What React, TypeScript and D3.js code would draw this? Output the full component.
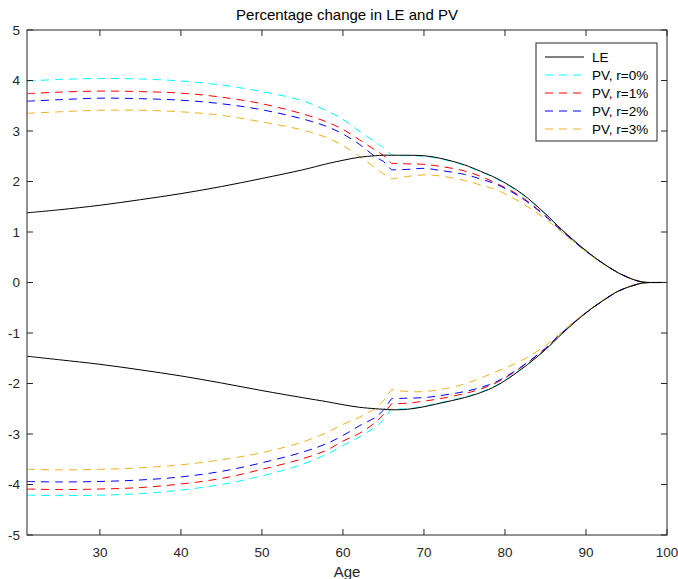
import React from "react";
import * as d3 from "d3";

const ages = [21, 25, 30, 35, 40, 45, 50, 55, 58, 60, 62, 64, 65, 66, 68, 70, 72, 75, 77, 79, 82, 85, 87, 90, 92, 94, 96, 97, 98, 100];

const leUpper = [1.38, 1.44, 1.53, 1.64, 1.76, 1.90, 2.06, 2.23, 2.35, 2.42, 2.48, 2.51, 2.52, 2.52, 2.52, 2.51, 2.46, 2.33, 2.20, 2.06, 1.77, 1.36, 1.05, 0.63, 0.39, 0.19, 0.05, 0.01, 0, 0];
const leLower = [-1.46, -1.53, -1.62, -1.73, -1.85, -1.99, -2.14, -2.28, -2.36, -2.42, -2.47, -2.50, -2.51, -2.52, -2.51, -2.46, -2.39, -2.28, -2.18, -2.04, -1.72, -1.33, -1.02, -0.60, -0.37, -0.17, -0.05, -0.01, 0, 0];

const pv0Upper = [3.99, 4.02, 4.04, 4.03, 3.99, 3.91, 3.78, 3.60, 3.40, 3.23, 3.00, 2.78, 2.67, 2.52, 2.51, 2.50, 2.45, 2.32, 2.19, 2.05, 1.76, 1.35, 1.04, 0.63, 0.39, 0.19, 0.05, 0.01, 0, 0];
const pv1Upper = [3.74, 3.77, 3.79, 3.78, 3.75, 3.67, 3.54, 3.34, 3.18, 3.03, 2.83, 2.62, 2.52, 2.36, 2.35, 2.34, 2.30, 2.21, 2.10, 1.96, 1.70, 1.32, 1.03, 0.62, 0.39, 0.19, 0.05, 0.01, 0, 0];
const pv2Upper = [3.59, 3.62, 3.65, 3.64, 3.61, 3.54, 3.42, 3.24, 3.09, 2.94, 2.74, 2.49, 2.40, 2.23, 2.24, 2.26, 2.22, 2.14, 2.05, 1.94, 1.68, 1.31, 1.02, 0.62, 0.39, 0.19, 0.05, 0.01, 0, 0];
const pv3Upper = [3.35, 3.38, 3.41, 3.41, 3.38, 3.31, 3.18, 3.02, 2.87, 2.71, 2.50, 2.27, 2.15, 2.05, 2.10, 2.13, 2.11, 2.02, 1.93, 1.83, 1.58, 1.26, 1.00, 0.61, 0.38, 0.19, 0.05, 0.01, 0, 0];

const pv0Lower = [-4.21, -4.22, -4.21, -4.18, -4.11, -4.00, -3.83, -3.60, -3.40, -3.23, -3.06, -2.86, -2.72, -2.50, -2.50, -2.45, -2.38, -2.27, -2.17, -2.03, -1.71, -1.32, -1.01, -0.60, -0.37, -0.17, -0.05, -0.01, 0, 0];
const pv1Lower = [-4.09, -4.10, -4.09, -4.06, -3.99, -3.88, -3.70, -3.49, -3.32, -3.14, -2.99, -2.77, -2.61, -2.40, -2.39, -2.35, -2.30, -2.20, -2.11, -1.98, -1.68, -1.31, -1.00, -0.60, -0.37, -0.17, -0.05, -0.01, 0, 0];
const pv2Lower = [-3.94, -3.95, -3.94, -3.91, -3.85, -3.74, -3.57, -3.36, -3.19, -3.03, -2.84, -2.67, -2.53, -2.30, -2.29, -2.28, -2.24, -2.16, -2.08, -1.96, -1.67, -1.30, -1.00, -0.60, -0.37, -0.17, -0.05, -0.01, 0, 0];
const pv3Lower = [-3.70, -3.71, -3.70, -3.67, -3.61, -3.51, -3.37, -3.16, -2.97, -2.81, -2.67, -2.49, -2.34, -2.12, -2.16, -2.16, -2.12, -2.01, -1.89, -1.76, -1.55, -1.25, -0.98, -0.59, -0.36, -0.17, -0.05, -0.01, 0, 0];

const xTicks = [30, 40, 50, 60, 70, 80, 90, 100];
const yTicks = [-5, -4, -3, -2, -1, 0, 1, 2, 3, 4, 5];

const legendLabels = ["LE", "PV, r=0%", "PV, r=1%", "PV, r=2%", "PV, r=3%"];
const seriesColors = ["#000000", "#00FFFF", "#FF0000", "#0000FF", "#EDB120"];

const W = 678;
const H = 579;
const left = 27;
const right = 667;
const top = 30;
const bottom = 535;
const font = "'Liberation Sans', Arial, Helvetica, sans-serif";
const axisColor = "#262626";
const breakAge = 65;

export default function App() {
  const x = d3.scaleLinear().domain([21, 100]).range([left, right]);
  const y = d3.scaleLinear().domain([-5, 5]).range([bottom, top]);
  const smooth = d3
    .line<[number, number]>()
    .x((d) => x(d[0]))
    .y((d) => y(d[1]))
    .curve(d3.curveCatmullRom.alpha(0.5));

  const pts = (vals: number[]) => ages.map((a, i) => [a, vals[i]] as [number, number]);

  // smooth path, but with a sharp break between breakAge and the next age
  const brokenPath = (vals: number[]) => {
    const p = pts(vals);
    const a = p.filter((d) => d[0] <= breakAge);
    const b = p.filter((d) => d[0] > breakAge);
    const pa = smooth(a) || "";
    const pb = (smooth(b) || "").replace(/^M/, "L");
    return pa + pb;
  };

  const pvSeries = [
    { up: pv0Upper, lo: pv0Lower, color: seriesColors[1] },
    { up: pv1Upper, lo: pv1Lower, color: seriesColors[2] },
    { up: pv2Upper, lo: pv2Lower, color: seriesColors[3] },
    { up: pv3Upper, lo: pv3Lower, color: seriesColors[4] },
  ];
  const tickLen = 6;
  const dash = "8,6";

  const lx = 536, ly = 43, lw = 121, lh = 98;

  return (
    <svg
      width={W}
      height={H}
      style={{ position: "absolute", left: 0, top: 0, background: "#fff" }}
      fontFamily={font}
    >
      <rect x={0} y={0} width={W} height={H} fill="#fff" />
      <defs>
        <clipPath id="plotclip">
          <rect x={left} y={top} width={right - left} height={bottom - top} />
        </clipPath>
      </defs>
      <g clipPath="url(#plotclip)">
        {pvSeries.map((s, i) => (
          <g key={i}>
            <path d={brokenPath(s.up)} fill="none" stroke={s.color} strokeWidth={1} strokeDasharray={dash} />
            <path d={brokenPath(s.lo)} fill="none" stroke={s.color} strokeWidth={1} strokeDasharray={dash} />
          </g>
        ))}
        <path d={smooth(pts(leUpper)) || ""} fill="none" stroke="#000" strokeWidth={1} />
        <path d={smooth(pts(leLower)) || ""} fill="none" stroke="#000" strokeWidth={1} />
      </g>

      {/* axes box */}
      <rect x={left} y={top} width={right - left} height={bottom - top} fill="none" stroke={axisColor} strokeWidth={1} />

      {/* x ticks */}
      {xTicks.map((t) => (
        <g key={"x" + t}>
          <line x1={x(t)} x2={x(t)} y1={bottom} y2={bottom - tickLen} stroke={axisColor} />
          <line x1={x(t)} x2={x(t)} y1={top} y2={top + tickLen} stroke={axisColor} />
          <text x={x(t)} y={557} textAnchor="middle" fontSize={13.5} fill={axisColor}>
            {t}
          </text>
        </g>
      ))}
      {/* y ticks */}
      {yTicks.map((t) => (
        <g key={"y" + t}>
          <line x1={left} x2={left + tickLen} y1={y(t)} y2={y(t)} stroke={axisColor} />
          <line x1={right} x2={right - tickLen} y1={y(t)} y2={y(t)} stroke={axisColor} />
          <text x={20} y={y(t)} dy="0.35em" textAnchor="end" fontSize={13.5} fill={axisColor}>
            {t}
          </text>
        </g>
      ))}

      <text x={(left + right) / 2} y={20} textAnchor="middle" fontSize={15} fill="#000">
        Percentage change in LE and PV
      </text>
      <text x={(left + right) / 2} y={577} textAnchor="middle" fontSize={15} fill={axisColor}>
        Age
      </text>

      {/* legend */}
      <rect x={lx} y={ly} width={lw} height={lh} fill="#fff" stroke={axisColor} strokeWidth={1} />
      {legendLabels.map((lab, i) => {
        const yy = ly + 14 + i * 18;
        return (
          <g key={lab}>
            <line
              x1={lx + 9}
              x2={lx + 48}
              y1={yy}
              y2={yy}
              stroke={seriesColors[i]}
              strokeWidth={1}
              strokeDasharray={i === 0 ? undefined : dash}
            />
            <text x={lx + 56} y={yy} dy="0.35em" fontSize={13.5} fill="#000">
              {lab}
            </text>
          </g>
        );
      })}
    </svg>
  );
}
